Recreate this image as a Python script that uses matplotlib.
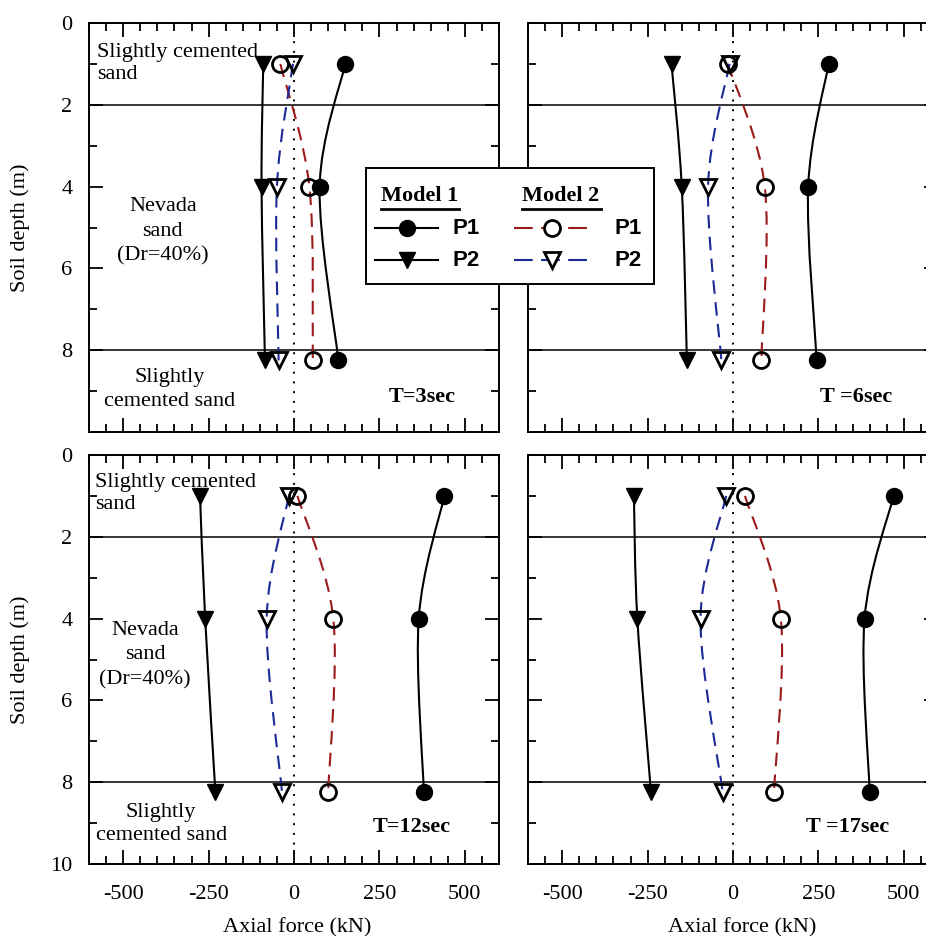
import numpy as np
import matplotlib.pyplot as plt
from matplotlib.path import Path
from matplotlib.patches import PathPatch
from matplotlib.ticker import MultipleLocator

plt.rcParams['font.family'] = 'Liberation Serif'
plt.rcParams['font.size'] = 16
plt.rcParams['axes.unicode_minus'] = False

# measurement depths (m)
depth = [1.0, 4.0, 8.25]
periods = ['T=3sec', 'T =6sec', 'T=12sec', 'T =17sec']

# axial force (kN) at each depth, one row per time step
m1_p1 = [[150, 75, 130], [280, 220, 245], [440, 365, 380], [470, 385, 400]]
m1_p2 = [[-90, -95, -85], [-180, -150, -135], [-275, -260, -230], [-290, -280, -240]]
m2_p1 = [[-40, 45, 55], [-15, 93, 83], [10, 115, 100], [35, 140, 120]]
m2_p2 = [[-3, -50, -45], [-10, -73, -34], [-15, -80, -35], [-20, -95, -30]]

layer_bounds = [2, 8]

RED = '#9c1a1a'
BLUE = '#1c2a96'

W, H = 926, 936
fig = plt.figure(figsize=(W / 100, H / 100), dpi=100)


def box(l, t, r, b):
    return [l / W, 1 - b / H, (r - l) / W, (b - t) / H]


def smooth_path(x, y):
    # catmull-rom style bezier through the points (like a spreadsheet "smoothed line")
    pts = np.column_stack([x, y]).astype(float)
    ext = np.vstack([pts[0], pts, pts[-1]])
    verts = [pts[0]]
    codes = [Path.MOVETO]
    for i in range(len(pts) - 1):
        p0, p1, p2, p3 = ext[i], ext[i + 1], ext[i + 2], ext[i + 3]
        verts += [p1 + (p2 - p0) / 6, p2 - (p3 - p1) / 6, p2]
        codes += [Path.CURVE4] * 3
    return Path(verts, codes)


boxes = [box(89, 23, 499, 432), box(528, 23, 938, 432),
         box(89, 455, 499, 864), box(528, 455, 938, 864)]

# layer annotations per panel: (x, depth, text, ha, linespacing)
layer_text = {
    0: [(-577, 0.99, 'Slightly cemented\nsand', 'left', 1.2),
        (-384, 5.09, 'Nevada\nsand\n(Dr=40%)', 'center', 1.4),
        (-363, 8.97, 'Slightly\ncemented sand', 'center', 1.35)],
    2: [(-582, 0.95, 'Slightly cemented\nsand', 'left', 1.2),
        (-436, 4.89, 'Nevada\nsand\n(Dr=40%)', 'center', 1.4),
        (-389, 9.02, 'Slightly\ncemented sand', 'center', 1.3)],
}
period_pos = [(374, 9.15), (359, 9.15), (344, 9.1), (335, 9.1)]

MS = {'o': 11.5, 'v': 11}

for i in range(4):
    ax = fig.add_axes(boxes[i])
    ax.set_xlim(-600, 600)
    ax.set_ylim(10, 0)
    ax.set_xticks([-500, -250, 0, 250, 500])
    ax.xaxis.set_minor_locator(MultipleLocator(50))
    ax.set_yticks(range(0, 11, 2))
    ax.yaxis.set_minor_locator(MultipleLocator(1))
    ax.tick_params(which='both', direction='in', top=True, right=True, width=1.3)
    ax.tick_params(which='major', length=10, pad=12)
    ax.tick_params(axis='x', which='major', pad=15)
    ax.tick_params(which='minor', length=6)
    for s in ax.spines.values():
        s.set_linewidth(1.4)

    if i < 2:
        ax.set_xticklabels([])
    else:
        ax.set_xlabel('Axial force (kN)')
        ax.xaxis.set_label_coords(0.507 if i == 2 else 0.522, -0.132)
    if i % 2 == 1:
        ax.set_yticklabels([])
    else:
        labels = ['0', '2', '4', '6', '8', '10' if i == 2 else '']
        ax.set_yticklabels(labels)
        ax.set_ylabel('Soil depth (m)')
        ax.yaxis.set_label_coords(-0.144, 0.5)

    for d in layer_bounds:
        ax.axhline(d, color='black', lw=1.1, zorder=1)
    ax.axvline(0, color='black', lw=1.4, ls=(0, (1, 4)), zorder=1)

    # model 2 (dashed, open markers)
    for vals, col, mk in [(m2_p1[i], RED, 'o'), (m2_p2[i], BLUE, 'v')]:
        ax.add_patch(PathPatch(smooth_path(vals, depth), fill=False, edgecolor=col,
                               lw=1.5, ls=(0, (6.5, 4)), zorder=2))
        ax.plot(vals, depth, ls='none', marker=mk, mfc='none', mec='black',
                mew=2.0, ms=MS[mk], zorder=3)

    # model 1 (solid, filled markers)
    for vals, mk in [(m1_p1[i], 'o'), (m1_p2[i], 'v')]:
        ax.add_patch(PathPatch(smooth_path(vals, depth), fill=False, edgecolor='black',
                               lw=1.5, zorder=4))
        ax.plot(vals, depth, ls='none', marker=mk, color='black', ms=MS[mk], zorder=5)

    for x, y, txt, ha, lsp in layer_text.get(i, []):
        ax.text(x, y, txt, ha=ha, va='center', linespacing=lsp, zorder=6)
    px, py = period_pos[i]
    ax.text(px, py, periods[i], ha='center', va='center', fontweight='bold', zorder=6)

# shared legend box across the two upper panels
lg = fig.add_axes(box(366, 168, 654, 284))
lg.set_xlim(366, 654)
lg.set_ylim(284, 168)
lg.set_xticks([])
lg.set_yticks([])
for s in lg.spines.values():
    s.set_linewidth(1.4)

for x0, x1, title in [(381, 459, 'Model 1'), (522, 601, 'Model 2')]:
    lg.text(x0, 196, title, ha='left', va='center', fontweight='bold')
    lg.plot([x0, x1], [209, 209], color='black', lw=2.0)

sans = ['Liberation Sans', 'DejaVu Sans']
for y, mk, lab in [(228, 'o', 'P1'), (260, 'v', 'P2')]:
    lg.plot([375, 438], [y, y], color='black', lw=1.5)
    lg.plot([407], [y], ls='none', marker=mk, color='black', ms=MS[mk])
    lg.text(452, y, lab, ha='left', va='center', fontweight='bold', family=sans)

for y, mk, col, lab in [(228, 'o', RED, 'P1'), (260, 'v', BLUE, 'P2')]:
    lg.plot([514, 587], [y, y], color=col, lw=1.5, ls=(0, (9, 4)))
    lg.plot([552], [y], ls='none', marker=mk, mfc='white', mec='black', mew=2.0,
            ms=MS[mk])
    lg.text(615, y, lab, ha='left', va='center', fontweight='bold', family=sans)

fig.savefig('out.png', dpi=100)
